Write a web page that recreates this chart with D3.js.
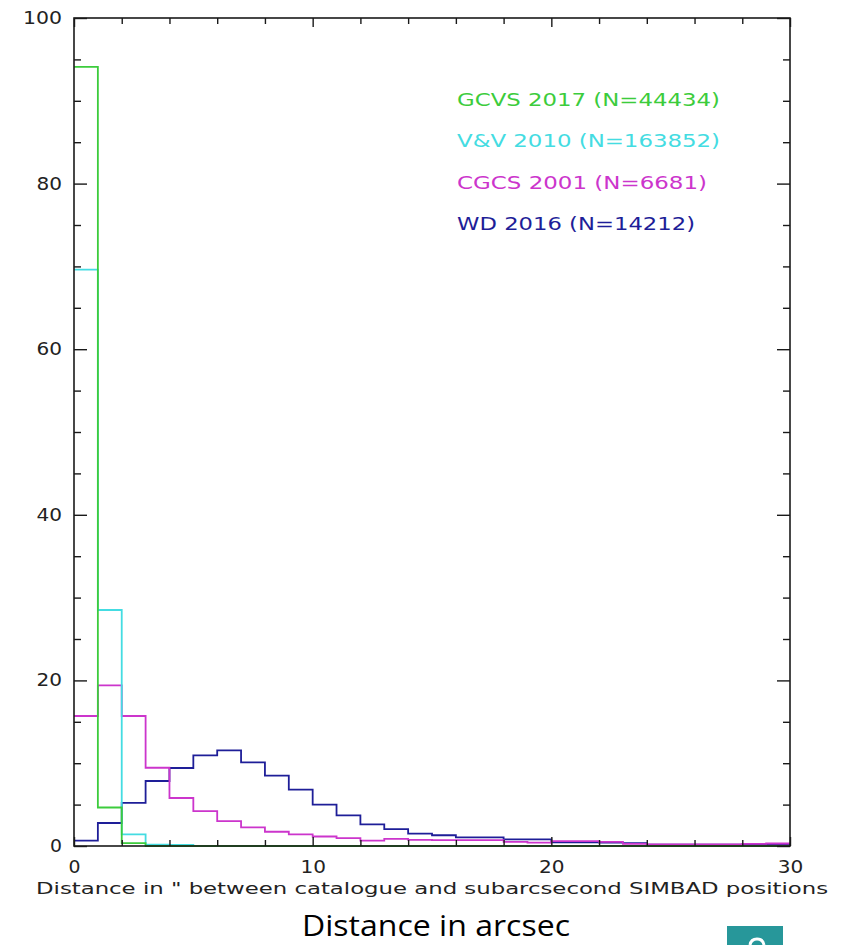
<!DOCTYPE html>
<html>
<head>
<meta charset="utf-8">
<script src="https://cdn.jsdelivr.net/npm/d3@7"></script>
<style>
  html, body { margin: 0; padding: 0; background: #fff; }
  svg { display: block; }
</style>
</head>
<body>
<svg id="chart" width="848" height="945"></svg>
<script>
// ---- data (bins of 1 arcsec from 0 to 30, percentage) ----
const binEdges = d3.range(0, 31); // 0..30
const gcvs = [94.1, 4.65, 0.35, 0, 0, 0, 0, 0, 0, 0, 0, 0, 0, 0, 0, 0, 0, 0, 0, 0, 0, 0, 0, 0, 0, 0, 0, 0, 0, 0];
const vv   = [69.6, 28.5, 1.4, 0.15, 0.12, 0, 0, 0, 0, 0, 0, 0, 0, 0, 0, 0, 0, 0, 0, 0, 0, 0, 0, 0, 0, 0, 0, 0, 0, 0];
const cgcs = [15.7, 19.4, 15.7, 9.45, 5.8, 4.2, 3.0, 2.25, 1.72, 1.4, 1.15, 0.95, 0.65, 0.85, 0.75, 0.7, 0.7, 0.7, 0.5, 0.4, 0.6, 0.6, 0.5, 0.25, 0.2, 0.2, 0.2, 0.2, 0.25, 0.3];
const wd   = [0.65, 2.78, 5.2, 7.85, 9.42, 10.95, 11.55, 10.1, 8.5, 6.8, 5.0, 3.7, 2.6, 2.05, 1.5, 1.3, 1.05, 1.05, 0.8, 0.8, 0.45, 0.45, 0.4, 0.35, 0.15, 0.15, 0.15, 0.15, 0.15, 0.15];

const seriesNames = ["GCVS 2017 (N=44434)", "V&V 2010 (N=163852)", "CGCS 2001 (N=6681)", "WD 2016 (N=14212)"];
const seriesColors = ["#3ccc3c", "#44dce2", "#cc35cc", "#1e1e98"];
const seriesValues = [gcvs, vv, cgcs, wd];

const xTicksMajor = [0, 10, 20, 30];
const yTicksMajor = [0, 20, 40, 60, 80, 100];

const xTitle = "Distance in \" between catalogue and subarcsecond SIMBAD positions";
const slideCaption = "Distance in arcsec";

// ---- layout ----
const svg = d3.select("#chart");
const L = 74, R = 790, T = 18, B = 846;
const x = d3.scaleLinear().domain([0, 30]).range([L, R]);
const y = d3.scaleLinear().domain([0, 100]).range([B, T]);

const plotFont = "'DejaVu Sans', sans-serif";
const axisColor = "#1a1a1a";

// ---- histograms (step outlines), drawn back-to-front ----
const line = d3.line()
  .x(d => x(d[0]))
  .y(d => y(d[1]))
  .curve(d3.curveStepAfter);

const drawOrder = [3, 2, 1, 0];
drawOrder.forEach(i => {
  const vals = seriesValues[i];
  const pts = vals.map((v, k) => [binEdges[k], v]);
  pts.push([binEdges[vals.length], vals[vals.length - 1]]);
  svg.append("path")
    .attr("d", line(pts))
    .attr("fill", "none")
    .attr("stroke", seriesColors[i])
    .attr("stroke-width", 1.8)
    .attr("stroke-linejoin", "miter");
});

// ---- axes: ticks inside on all four sides ----
function styleAxis(g) {
  g.select(".domain").remove();
  g.selectAll(".tick line").attr("stroke", axisColor).attr("stroke-width", 1.4);
  g.selectAll("text")
    .attr("fill", "#222")
    .attr("font-family", plotFont)
    .attr("font-size", 17)
    .each(function () {
      const n = this.textContent.length;
      d3.select(this)
        .attr("textLength", 13.5 * n - 1.5)
        .attr("lengthAdjust", "spacingAndGlyphs");
    });
}

const xMinorVals = d3.range(0, 31, 2).filter(v => v % 10 !== 0);
const yMinorVals = d3.range(0, 101, 5).filter(v => v % 20 !== 0);

// bottom
svg.append("g").attr("transform", `translate(0,${B})`)
  .call(d3.axisBottom(x).tickValues(xMinorVals).tickSize(-6).tickFormat(""))
  .call(styleAxis);
svg.append("g").attr("transform", `translate(0,${B})`)
  .call(d3.axisBottom(x).tickValues(xTicksMajor).tickSize(-9).tickPadding(15).tickFormat(d3.format("d")))
  .call(styleAxis);
// top
svg.append("g").attr("transform", `translate(0,${T})`)
  .call(d3.axisTop(x).tickValues(xMinorVals).tickSize(-6).tickFormat(""))
  .call(styleAxis);
svg.append("g").attr("transform", `translate(0,${T})`)
  .call(d3.axisTop(x).tickValues(xTicksMajor).tickSize(-9).tickFormat(""))
  .call(styleAxis);
// left
svg.append("g").attr("transform", `translate(${L},0)`)
  .call(d3.axisLeft(y).tickValues(yMinorVals).tickSize(-7).tickFormat(""))
  .call(styleAxis);
svg.append("g").attr("transform", `translate(${L},0)`)
  .call(d3.axisLeft(y).tickValues(yTicksMajor).tickSize(-13).tickPadding(12).tickFormat(d3.format("d")))
  .call(styleAxis);
// right
svg.append("g").attr("transform", `translate(${R},0)`)
  .call(d3.axisRight(y).tickValues(yMinorVals).tickSize(-7).tickFormat(""))
  .call(styleAxis);
svg.append("g").attr("transform", `translate(${R},0)`)
  .call(d3.axisRight(y).tickValues(yTicksMajor).tickSize(-13).tickFormat(""))
  .call(styleAxis);

// frame
svg.append("rect")
  .attr("x", L).attr("y", T)
  .attr("width", R - L).attr("height", B - T)
  .attr("fill", "none")
  .attr("stroke", axisColor)
  .attr("stroke-width", 1.6);

// ---- legend ----
const legendX = 457;
const legendBase = [106, 147, 189, 230];
const legendWidths = [263, 263, 250, 238];
seriesNames.forEach((name, i) => {
  svg.append("text")
    .attr("x", legendX)
    .attr("y", legendBase[i])
    .attr("fill", seriesColors[i])
    .attr("font-family", plotFont)
    .attr("font-size", 18)
    .attr("textLength", legendWidths[i])
    .attr("lengthAdjust", "spacingAndGlyphs")
    .text(name);
});

// ---- x title ----
svg.append("text")
  .attr("x", 36)
  .attr("y", 894)
  .attr("fill", "#222")
  .attr("font-family", plotFont)
  .attr("font-size", 16)
  .attr("textLength", 792)
  .attr("lengthAdjust", "spacingAndGlyphs")
  .text(xTitle);

// ---- slide caption ----
svg.append("text")
  .attr("x", 302)
  .attr("y", 936)
  .attr("fill", "#000")
  .attr("font-family", "'Open Sans', 'Noto Sans', sans-serif")
  .attr("font-size", 30)
  .attr("textLength", 268)
  .attr("lengthAdjust", "spacingAndGlyphs")
  .text(slideCaption);

// ---- page-number box (number itself is cropped off the slide) ----
svg.append("rect")
  .attr("x", 727).attr("y", 926)
  .attr("width", 56).attr("height", 19)
  .attr("fill", "#27979a");
svg.append("path")
  .attr("d", "M750,945 Q751,939 757,939 Q763,939 764,945")
  .attr("fill", "none")
  .attr("stroke", "#fff")
  .attr("stroke-width", 3);
</script>
</body>
</html>
